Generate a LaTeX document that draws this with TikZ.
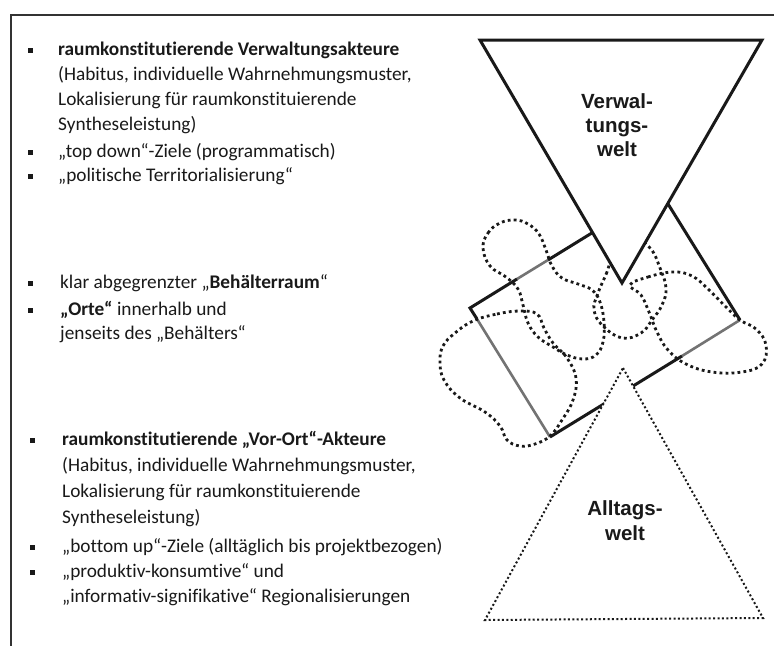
\documentclass[tikz,border=0pt]{standalone}
\usepackage{fontspec}
\setmainfont{Carlito}[Ligatures=NoCommon]
\newfontfamily\arialb{Liberation Sans}
\begin{document}
\begin{tikzpicture}[x=1pt,y=-1pt]
\tikzset{
  frameline/.style={line width=2pt, draw=black!80},
  body/.style={font=\fontsize{19.3}{25}\selectfont, anchor=base west, inner sep=0pt, text=black!90},
  bul/.style={fill=black!90, minimum size=5pt, inner sep=0pt},
  blackedge/.style={line width=3pt, draw=black!90, line join=miter},
  grayedge/.style={line width=2.6pt, draw=black!55},
  blob/.style={line width=2.8pt, dash pattern=on 2.8pt off 3.2pt, draw=black!90},
  toptri/.style={line width=3pt, draw=black!90, fill=white, line join=miter},
  dottri/.style={line width=2pt, dash pattern=on 2pt off 2.4pt, draw=black!90, fill=white},
  world/.style={font=\arialb\bfseries\fontsize{20.5}{24}\selectfont, anchor=base, inner sep=0pt, text=black!90}
}
\useasboundingbox (0,0) rectangle (774,646);
% frame
\coordinate (fTL) at (11,14.5);
\coordinate (fTR) at (774,14.5);
\coordinate (fBL) at (11,646);
\draw[frameline] (fTR) -- (fTL) -- (fBL);

% ---------- left text ----------
\node[bul] (b1) at (30,50) {};
\node[body] (t1) at (58,55) {\textbf{raumkonstitutierende Verwaltungsakteure}};
\node[body] (t2) at (58,80) {(Habitus, individuelle Wahrnehmungsmuster,};
\node[body] (t3) at (58,105) {Lokalisierung für raumkonstituierende};
\node[body] (t4) at (58,130) {Syntheseleistung)};
\node[bul] (b2) at (30,152) {};
\node[body] (t5) at (58,157) {„top down“-Ziele (programmatisch)};
\node[bul] (b3) at (30,176) {};
\node[body] (t6) at (58,181) {„politische Territorialisierung“};

\node[bul] (b4) at (30.5,283) {};
\node[body] (t7) at (60,288) {klar abgegrenzter „\textbf{Behälterraum}“};
\node[bul] (b5) at (30.5,310) {};
\node[body] (t8) at (60,315) {\textbf{„Orte“} innerhalb und};
\node[body] (t9) at (60,339) {jenseits des „Behälters“};

\node[bul] (b6) at (32,440) {};
\node[body] (t10) at (62,445) {\textbf{raumkonstitutierende „Vor-Ort“-Akteure}};
\node[body] (t11) at (62,471) {(Habitus, individuelle Wahrnehmungsmuster,};
\node[body] (t12) at (62,497) {Lokalisierung für raumkonstituierende};
\node[body] (t13) at (62,523) {Syntheseleistung)};
\node[bul] (b7) at (32,547) {};
\node[body] (t14) at (62,552) {„bottom up“-Ziele (alltäglich bis projektbezogen)};
\node[bul] (b8) at (32,572) {};
\node[body] (t15) at (62,577) {„produktiv-konsumtive“ und};
\node[body] (t16) at (62,602) {„informativ-signifikative“ Regionalisierungen};

% ---------- container rectangle ----------
\coordinate (rL) at (470,308);
\coordinate (rB) at (550,437);
\coordinate (rR) at (740,320);
\coordinate (rT) at (660,191);
\coordinate (g1a) at (517,279);
\coordinate (g1b) at (548,260);
\coordinate (g2) at (477,319);
\coordinate (g3) at (682,356);
\draw[grayedge] (g1a) -- (g1b);
\draw[grayedge] (g2) -- (rB);
\draw[grayedge] (rR) -- (g3);
\draw[blackedge] (g2) -- (rL) -- (g1a);
\draw[blackedge] (g1b) -- (rT) -- (rR);
\draw[blackedge] (g3) -- (rB);

% ---------- dotted blobs ----------
\draw[blob] plot[smooth cycle, tension=0.7] coordinates {
 (483,248) (488,233) (500,223) (515,220) (528,224) (539,234) (546,250) (552,266)
 (562,278) (578,284) (592,290) (600,302) (604,322) (603,342) (596,355) (583,359)
 (567,355) (553,347) (538,337) (528,323) (523,305) (518,289) (506,277) (490,266)};
\draw[blob] plot[smooth cycle, tension=0.7] coordinates {
 (614,252) (607,272) (598,293) (594,310) (603,326) (622,338) (641,333) (652,320)
 (662,305) (666,288) (660,268) (650,248) (632,238)};
\draw[blob] plot[smooth cycle, tension=0.7] coordinates {
 (630,285) (648,277) (673,272) (692,276) (708,289) (725,306) (740,320) (756,329)
 (766,345) (762,364) (742,372) (712,372) (686,364) (668,350) (657,332) (649,312) (641,295)};
\draw[blob] plot[smooth cycle, tension=0.7] coordinates {
 (473,321) (497,314) (520,311) (537,314) (544,328) (553,343) (567,358) (576,378)
 (573,400) (562,420) (550,436) (535,444) (520,446) (507,440) (500,426) (485,412)
 (460,398) (444,380) (440,362) (443,346) (455,333)};

% ---------- worlds ----------
\coordinate (vA) at (480,40);
\coordinate (vB) at (762,40);
\coordinate (vC) at (622,283);
\draw[toptri] (vA) -- (vB) -- (vC) -- cycle;
\coordinate (aA) at (623,368);
\coordinate (aB) at (763,618);
\coordinate (aC) at (485,620);
\draw[dottri] (aA) -- (aB) -- (aC) -- cycle;

\node[world] (vw1) at (617,108) {Verwal-};
\node[world] (vw2) at (617,132) {tungs-};
\node[world] (vw3) at (617,156) {welt};
\node[world] (aw1) at (625,515) {Alltags-};
\node[world] (aw2) at (625,540) {welt};
\end{tikzpicture}
\end{document}
